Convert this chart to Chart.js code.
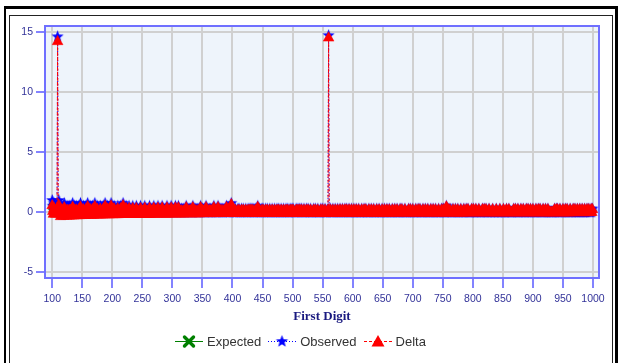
<!DOCTYPE html>
<html><head><meta charset="utf-8">
<script src="https://cdn.jsdelivr.net/npm/chart.js@4/dist/chart.umd.min.js"></script>
<style>
html,body{margin:0;padding:0;background:#fff;width:620px;height:363px;overflow:hidden;position:relative;font-family:"Liberation Sans",Arial,sans-serif}
#c{position:absolute;left:0;top:0}
.outer{position:absolute;left:4px;top:6px;width:614px;height:400px;box-sizing:border-box;border-top:3px solid #000;border-left:2px solid #000;border-right:3px solid #000;pointer-events:none}
.inner{position:absolute;left:9px;top:15px;width:604px;height:400px;box-sizing:border-box;border:1px solid #222;pointer-events:none}
#legend{position:absolute;left:175px;top:333px;height:16px;display:flex;align-items:center;font-size:13px;color:#333;white-space:nowrap}
#legend .it{display:flex;align-items:center;margin-right:7px}
#legend canvas{display:block;margin-right:4px}
</style></head><body>
<canvas id="c" width="620" height="363"></canvas>
<div class="outer"></div><div class="inner"></div>
<div id="legend"></div>
<script>
// First digits 100..999
const digits = Array.from({length: 900}, (_, i) => 100 + i);
const xTicks = [100,150,200,250,300,350,400,450,500,550,600,650,700,750,800,850,900,950,1000];
const yTicks = [-5,0,5,10,15];
const seriesNames = ['Expected','Observed','Delta'];

const expected = [
.43,.43,.42,.42,.42,.41,.41,.40,.40,.40,
.39,.39,.39,.38,.38,.38,.37,.37,.37,.36,
.36,.36,.35,.35,.35,.35,.34,.34,.34,.34,
.33,.33,.33,.33,.32,.32,.32,.32,.31,.31,
.31,.31,.30,.30,.30,.30,.30,.29,.29,.29,
.29,.29,.28,.28,.28,.28,.28,.28,.27,.27,
.27,.27,.27,.27,.26,.26,.26,.26,.26,.26,
.25,.25,.25,.25,.25,.25,.25,.24,.24,.24,
.24,.24,.24,.24,.24,.23,.23,.23,.23,.23,
.23,.23,.23,.22,.22,.22,.22,.22,.22,.22,
.22,.22,.21,.21,.21,.21,.21,.21,.21,.21,
.21,.21,.20,.20,.20,.20,.20,.20,.20,.20,
.20,.20,.20,.19,.19,.19,.19,.19,.19,.19,
.19,.19,.19,.19,.19,.18,.18,.18,.18,.18,
.18,.18,.18,.18,.18,.18,.18,.18,.17,.17,
.17,.17,.17,.17,.17,.17,.17,.17,.17,.17,
.17,.17,.17,.16,.16,.16,.16,.16,.16,.16,
.16,.16,.16,.16,.16,.16,.16,.16,.16,.16,
.15,.15,.15,.15,.15,.15,.15,.15,.15,.15,
.15,.15,.15,.15,.15,.15,.15,.15,.15,.15,
.14,.14,.14,.14,.14,.14,.14,.14,.14,.14,
.14,.14,.14,.14,.14,.14,.14,.14,.14,.14,
.14,.14,.13,.13,.13,.13,.13,.13,.13,.13,
.13,.13,.13,.13,.13,.13,.13,.13,.13,.13,
.13,.13,.13,.13,.13,.13,.13,.12,.12,.12,
.12,.12,.12,.12,.12,.12,.12,.12,.12,.12,
.12,.12,.12,.12,.12,.12,.12,.12,.12,.12,
.12,.12,.12,.12,.12,.12,.12,.12,.11,.11,
.11,.11,.11,.11,.11,.11,.11,.11,.11,.11,
.11,.11,.11,.11,.11,.11,.11,.11,.11,.11,
.11,.11,.11,.11,.11,.11,.11,.11,.11,.11,
.11,.11,.11,.11,.10,.10,.10,.10,.10,.10,
.10,.10,.10,.10,.10,.10,.10,.10,.10,.10,
.10,.10,.10,.10,.10,.10,.10,.10,.10,.10,
.10,.10,.10,.10,.10,.10,.10,.10,.10,.10,
.10,.10,.10,.10,.10,.10,.10,.09,.09,.09,
.09,.09,.09,.09,.09,.09,.09,.09,.09,.09,
.09,.09,.09,.09,.09,.09,.09,.09,.09,.09,
.09,.09,.09,.09,.09,.09,.09,.09,.09,.09,
.09,.09,.09,.09,.09,.09,.09,.09,.09,.09,
.09,.09,.09,.09,.09,.09,.09,.09,.09,.09,
.09,.08,.08,.08,.08,.08,.08,.08,.08,.08,
.08,.08,.08,.08,.08,.08,.08,.08,.08,.08,
.08,.08,.08,.08,.08,.08,.08,.08,.08,.08,
.08,.08,.08,.08,.08,.08,.08,.08,.08,.08,
.08,.08,.08,.08,.08,.08,.08,.08,.08,.08,
.08,.08,.08,.08,.08,.08,.08,.08,.08,.08,
.08,.08,.08,.08,.08,.08,.08,.08,.08,.07,
.07,.07,.07,.07,.07,.07,.07,.07,.07,.07,
.07,.07,.07,.07,.07,.07,.07,.07,.07,.07,
.07,.07,.07,.07,.07,.07,.07,.07,.07,.07,
.07,.07,.07,.07,.07,.07,.07,.07,.07,.07,
.07,.07,.07,.07,.07,.07,.07,.07,.07,.07,
.07,.07,.07,.07,.07,.07,.07,.07,.07,.07,
.07,.07,.07,.07,.07,.07,.07,.07,.07,.07,
.07,.07,.07,.07,.07,.07,.07,.07,.07,.07,
.07,.07,.07,.07,.07,.07,.07,.07,.06,.06,
.06,.06,.06,.06,.06,.06,.06,.06,.06,.06,
.06,.06,.06,.06,.06,.06,.06,.06,.06,.06,
.06,.06,.06,.06,.06,.06,.06,.06,.06,.06,
.06,.06,.06,.06,.06,.06,.06,.06,.06,.06,
.06,.06,.06,.06,.06,.06,.06,.06,.06,.06,
.06,.06,.06,.06,.06,.06,.06,.06,.06,.06,
.06,.06,.06,.06,.06,.06,.06,.06,.06,.06,
.06,.06,.06,.06,.06,.06,.06,.06,.06,.06,
.06,.06,.06,.06,.06,.06,.06,.06,.06,.06,
.06,.06,.06,.06,.06,.06,.06,.06,.06,.06,
.06,.06,.06,.06,.06,.06,.06,.06,.06,.06,
.06,.06,.06,.06,.06,.06,.06,.06,.06,.06,
.05,.05,.05,.05,.05,.05,.05,.05,.05,.05,
.05,.05,.05,.05,.05,.05,.05,.05,.05,.05,
.05,.05,.05,.05,.05,.05,.05,.05,.05,.05,
.05,.05,.05,.05,.05,.05,.05,.05,.05,.05,
.05,.05,.05,.05,.05,.05,.05,.05,.05,.05,
.05,.05,.05,.05,.05,.05,.05,.05,.05,.05,
.05,.05,.05,.05,.05,.05,.05,.05,.05,.05,
.05,.05,.05,.05,.05,.05,.05,.05,.05,.05,
.05,.05,.05,.05,.05,.05,.05,.05,.05,.05,
.05,.05,.05,.05,.05,.05,.05,.05,.05,.05,
.05,.05,.05,.05,.05,.05,.05,.05,.05,.05,
.05,.05,.05,.05,.05,.05,.05,.05,.05,.05,
.05,.05,.05,.05,.05,.05,.05,.05,.05,.05,
.05,.05,.05,.05,.05,.05,.05,.05,.05,.05,
.05,.05,.05,.05,.05,.05,.05,.05,.05,.05,
.05,.05,.05,.05,.05,.05,.05,.05,.05,.05,
.05,.05,.05,.05,.05,.04,.04,.04,.04,.04,
.04,.04,.04,.04,.04,.04,.04,.04,.04,.04,
.04,.04,.04,.04,.04,.04,.04,.04,.04,.04,
.04,.04,.04,.04,.04,.04,.04,.04,.04,.04
];

const observed = [
.96,.48,.24,.72,.48,.24,.48,.24,.48,14.6,
.24,.96,.48,.24,0,.48,.24,.24,.48,0,
.72,.24,.24,.48,0,.24,.48,.24,0,.48,
.24,.48,0,.24,.72,.24,0,.48,.24,.24,
.48,0,.24,.24,.48,0,.24,.72,.24,0,
.24,.24,.48,0,.24,0,.48,.24,.24,.72,
0,.24,.24,.48,0,.24,0,.48,.24,0,
.24,.72,.24,0,.24,.48,0,.24,0,.24,
.48,0,.24,.24,0,.48,.24,0,.72,.24,
0,.24,.48,0,.24,0,.24,.24,.72,.48,
.24,0,.24,.48,0,.24,0,.24,0,.48,
0,.24,.24,0,.48,0,.24,.48,.72,.24,
0,.24,0,.48,0,.24,.24,0,.48,0,
.24,0,0,.24,.48,0,.24,0,0,.24,
.48,0,.24,0,0,.24,0,.48,0,.24,
0,.24,0,0,.48,0,.24,0,.24,0,
.24,0,.48,0,0,.24,0,0,.24,.48,
0,0,.24,0,.24,0,.48,0,0,.24,
.24,0,0,.48,0,.24,0,0,.24,0,
0,.48,0,0,.24,0,.24,0,.48,0,
.24,0,0,.24,0,.48,0,.24,0,0,
.48,0,.24,0,0,.24,0,0,.24,0,
0,.24,0,.48,0,0,.24,0,0,.24,
.24,0,0,0,.48,0,.24,0,.24,0,
0,.24,0,0,.24,0,0,.48,0,.24,
.24,0,0,.24,0,0,.48,0,0,.24,
0,0,.24,0,.24,0,0,.24,0,.48,
.24,0,0,0,.24,0,.48,0,0,.24,
0,.24,0,0,.24,0,0,.24,0,0,
.48,0,0,.24,0,0,0,.24,.72,.24,
0,0,.24,0,0,.24,0,0,0,.24,
0,.24,0,0,0,.24,0,0,.24,0,
0,0,.24,0,0,0,.24,0,0,.24,
0,.24,0,0,.24,0,0,0,.24,0,
0,0,.48,0,0,.24,0,0,0,.24,
0,.24,0,0,0,.24,0,0,.24,0,
0,0,.24,0,0,0,.24,0,0,0,
.24,0,0,0,.24,0,0,.24,0,0,
0,.24,0,0,0,.24,0,0,0,.24,
0,0,.24,0,0,0,.24,0,0,.24,
0,.24,0,0,0,0,.24,0,0,.24,
0,0,.24,0,0,.24,0,0,0,.24,
0,0,0,.24,0,0,.24,0,0,0,
.24,0,0,0,0,.24,0,0,.24,0,
0,0,.24,0,0,0,0,.24,0,0,
.24,0,0,0,.24,0,0,0,0,.24,
14.7,0,0,.24,0,0,0,.24,0,0,
0,.24,0,0,0,.24,0,0,0,.24,
0,0,0,.24,0,0,0,.24,0,0,
.24,0,0,0,.24,0,0,0,.24,0,
0,0,.24,0,0,0,.24,0,0,0,
.24,0,0,0,0,.24,0,0,0,.24,
0,0,.24,0,0,0,0,.24,0,0,
0,.24,0,0,0,.24,0,0,0,0,
.24,0,0,0,.24,0,0,0,0,.24,
0,0,0,.24,0,0,0,.24,0,0,
0,.24,0,0,0,0,.24,0,0,0,
.24,0,0,0,.24,0,0,0,0,.24,
0,0,.24,0,0,0,0,.24,0,0,
0,0,0,.24,0,0,.24,0,0,0,
.24,0,0,0,0,.24,0,0,0,.24,
0,0,.24,0,0,0,0,.24,0,0,
0,.24,0,0,0,.24,0,0,0,0,
.24,0,0,0,.24,0,0,0,.24,0,
0,0,0,.24,0,0,0,0,.24,0,
0,.24,0,0,0,0,.48,0,0,.24,
0,0,.24,0,0,0,0,.24,0,0,
0,.24,0,0,0,.24,0,0,0,0,
.24,0,0,0,0,.24,0,0,0,.24,
0,0,.24,0,0,0,0,0,.24,0,
0,.24,0,0,0,.24,0,0,0,0,
.24,0,0,0,0,0,.24,0,0,.24,
0,0,.24,0,0,0,0,.24,0,0,
0,0,0,.24,0,0,0,0,0,.24,
0,0,0,0,0,.24,0,0,0,0,
0,.24,0,0,0,0,.24,0,0,0,
.24,0,0,0,0,0,0,0,.24,0,
0,.24,0,0,0,.24,0,0,0,0,
.24,0,0,0,.24,0,0,0,0,.24,
0,0,.24,0,0,0,.24,0,0,0,
.24,0,0,0,0,.24,0,0,0,.24,
0,0,.24,0,0,0,0,.24,0,0,
0,.24,0,0,0,.24,0,0,0,0,
0,0,0,0,0,0,.24,0,0,.24,
0,.24,0,0,0,.24,0,0,0,0,
.24,0,0,0,.24,0,0,.24,0,0,
0,0,.24,0,0,0,0,.24,0,0,
.24,0,0,0,.24,0,0,0,.24,0,
0,0,.24,0,0,0,.24,0,0,0,
.24,0,0,.24,0,0,0,.24,0,.24
];

const delta = [
.53,.05,-.18,.30,.06,-.17,.07,-.16,.08,14.2,
-.15,.57,.09,-.14,-.38,.10,-.13,-.13,.11,-.36,
.36,-.12,-.11,.13,-.35,-.11,.14,-.10,-.34,.14,
-.09,.15,-.33,-.09,.40,-.08,-.32,.16,-.07,-.07,
.17,-.31,-.06,-.06,.18,-.30,-.06,.43,-.05,-.29,
-.05,-.05,.20,-.28,-.04,-.28,.20,-.04,-.03,.45,
-.27,-.03,-.03,.21,-.26,-.02,-.26,.22,-.02,-.26,
-.01,.47,-.01,-.25,-.01,.23,-.25,0,-.24,0,
.24,-.24,0,0,-.24,.25,.01,-.23,.49,.01,
-.23,.01,.25,-.22,.02,-.22,.02,.02,.50,.26,
.02,-.22,.03,.27,-.21,.03,-.21,.03,-.21,.27,
-.21,.03,.04,-.20,.28,-.20,.04,.28,.52,.04,
-.20,.04,-.20,.29,-.19,.05,.05,-.19,.29,-.19,
.05,-.19,-.19,.05,.29,-.18,.06,-.18,-.18,.06,
.30,-.18,.06,-.18,-.18,.06,-.18,.30,-.17,.07,
-.17,.07,-.17,-.17,.31,-.17,.07,-.17,.07,-.17,
.07,-.17,.31,-.16,-.16,.08,-.16,-.16,.08,.32,
-.16,-.16,.08,-.16,.08,-.16,.32,-.16,-.16,.08,
.09,-.15,-.15,.33,-.15,.09,-.15,-.15,.09,-.15,
-.15,.33,-.15,-.15,.09,-.15,.09,-.15,.33,-.15,
.10,-.14,-.14,.10,-.14,.34,-.14,.10,-.14,-.14,
.34,-.14,.10,-.14,-.14,.10,-.14,-.14,.10,-.14,
-.14,.10,-.13,.35,-.13,-.13,.11,-.13,-.13,.11,
.11,-.13,-.13,-.13,.35,-.13,.11,-.13,.11,-.13,
-.13,.11,-.13,-.13,.11,-.13,-.13,.36,-.12,.12,
.12,-.12,-.12,.12,-.12,-.12,.36,-.12,-.12,.12,
-.12,-.12,.12,-.12,.12,-.12,-.12,.12,-.12,.36,
.12,-.12,-.12,-.12,.12,-.12,.36,-.12,-.11,.13,
-.11,.13,-.11,-.11,.13,-.11,-.11,.13,-.11,-.11,
.37,-.11,-.11,.13,-.11,-.11,-.11,.13,.61,.13,
-.11,-.11,.13,-.11,-.11,.13,-.11,-.11,-.11,.13,
-.11,.13,-.11,-.11,-.10,.14,-.10,-.10,.14,-.10,
-.10,-.10,.14,-.10,-.10,-.10,.14,-.10,-.10,.14,
-.10,.14,-.10,-.10,.14,-.10,-.10,-.10,.14,-.10,
-.10,-.10,.38,-.10,-.10,.14,-.10,-.10,-.10,.14,
-.10,.14,-.10,-.10,-.10,.14,-.10,-.09,.15,-.09,
-.09,-.09,.15,-.09,-.09,-.09,.15,-.09,-.09,-.09,
.15,-.09,-.09,-.09,.15,-.09,-.09,.15,-.09,-.09,
-.09,.15,-.09,-.09,-.09,.15,-.09,-.09,-.09,.15,
-.09,-.09,.15,-.09,-.09,-.09,.15,-.09,-.09,.15,
-.09,.15,-.09,-.09,-.09,-.09,.15,-.09,-.09,.15,
-.09,-.08,.16,-.08,-.08,.16,-.08,-.08,-.08,.16,
-.08,-.08,-.08,.16,-.08,-.08,.16,-.08,-.08,-.08,
.16,-.08,-.08,-.08,-.08,.16,-.08,-.08,.16,-.08,
-.08,-.08,.16,-.08,-.08,-.08,-.08,.16,-.08,-.08,
.16,-.08,-.08,-.08,.16,-.08,-.08,-.08,-.08,.16,
14.5,-.08,-.08,.16,-.08,-.08,-.08,.16,-.08,-.08,
-.08,.16,-.08,-.08,-.08,.16,-.08,-.08,-.08,.17,
-.07,-.07,-.07,.17,-.07,-.07,-.07,.17,-.07,-.07,
.17,-.07,-.07,-.07,.17,-.07,-.07,-.07,.17,-.07,
-.07,-.07,.17,-.07,-.07,-.07,.17,-.07,-.07,-.07,
.17,-.07,-.07,-.07,-.07,.17,-.07,-.07,-.07,.17,
-.07,-.07,.17,-.07,-.07,-.07,-.07,.17,-.07,-.07,
-.07,.17,-.07,-.07,-.07,.17,-.07,-.07,-.07,-.07,
.17,-.07,-.07,-.07,.17,-.07,-.07,-.07,-.07,.17,
-.07,-.07,-.07,.17,-.07,-.07,-.07,.17,-.07,-.07,
-.07,.17,-.07,-.07,-.07,-.07,.17,-.07,-.06,-.06,
.18,-.06,-.06,-.06,.18,-.06,-.06,-.06,-.06,.18,
-.06,-.06,.18,-.06,-.06,-.06,-.06,.18,-.06,-.06,
-.06,-.06,-.06,.18,-.06,-.06,.18,-.06,-.06,-.06,
.18,-.06,-.06,-.06,-.06,.18,-.06,-.06,-.06,.18,
-.06,-.06,.18,-.06,-.06,-.06,-.06,.18,-.06,-.06,
-.06,.18,-.06,-.06,-.06,.18,-.06,-.06,-.06,-.06,
.18,-.06,-.06,-.06,.18,-.06,-.06,-.06,.18,-.06,
-.06,-.06,-.06,.18,-.06,-.06,-.06,-.06,.18,-.06,
-.06,.18,-.06,-.06,-.06,-.06,.42,-.06,-.06,.18,
-.06,-.06,.18,-.06,-.06,-.06,-.06,.18,-.06,-.06,
-.06,.18,-.06,-.06,-.06,.18,-.06,-.06,-.06,-.06,
.18,-.06,-.06,-.06,-.06,.18,-.06,-.06,-.06,.18,
-.05,-.05,.19,-.05,-.05,-.05,-.05,-.05,.19,-.05,
-.05,.19,-.05,-.05,-.05,.19,-.05,-.05,-.05,-.05,
.19,-.05,-.05,-.05,-.05,-.05,.19,-.05,-.05,.19,
-.05,-.05,.19,-.05,-.05,-.05,-.05,.19,-.05,-.05,
-.05,-.05,-.05,.19,-.05,-.05,-.05,-.05,-.05,.19,
-.05,-.05,-.05,-.05,-.05,.19,-.05,-.05,-.05,-.05,
-.05,.19,-.05,-.05,-.05,-.05,.19,-.05,-.05,-.05,
.19,-.05,-.05,-.05,-.05,-.05,-.05,-.05,.19,-.05,
-.05,.19,-.05,-.05,-.05,.19,-.05,-.05,-.05,-.05,
.19,-.05,-.05,-.05,.19,-.05,-.05,-.05,-.05,.19,
-.05,-.05,.19,-.05,-.05,-.05,.19,-.05,-.05,-.05,
.19,-.05,-.05,-.05,-.05,.19,-.05,-.05,-.05,.19,
-.05,-.05,.19,-.05,-.05,-.05,-.05,.19,-.05,-.05,
-.05,.19,-.05,-.05,-.05,.19,-.05,-.05,-.05,-.05,
-.05,-.05,-.05,-.05,-.05,-.05,.19,-.05,-.05,.19,
-.05,.19,-.05,-.05,-.05,.19,-.05,-.05,-.05,-.05,
.19,-.05,-.05,-.05,.19,-.05,-.05,.19,-.05,-.05,
-.05,-.05,.19,-.05,-.05,-.04,-.04,.20,-.04,-.04,
.20,-.04,-.04,-.04,.20,-.04,-.04,-.04,.20,-.04,
-.04,-.04,.20,-.04,-.04,-.04,.20,-.04,-.04,-.04,
.20,-.04,-.04,.20,-.04,-.04,-.04,.20,-.04,.20
];

// --- marker images ---
function makeStar(color, R, r) {
  const s = Math.ceil(R * 2 + 2), c = document.createElement('canvas');
  c.width = s; c.height = s;
  const g = c.getContext('2d');
  g.translate(s / 2, s / 2);
  g.beginPath();
  for (let k = 0; k < 10; k++) {
    const rad = k % 2 ? r : R, a = -Math.PI / 2 + k * Math.PI / 5;
    g.lineTo(Math.cos(a) * rad, Math.sin(a) * rad);
  }
  g.closePath(); g.fillStyle = color; g.fill();
  return c;
}
const starImg = makeStar('#0000ff', 6.4, 2.7);

const C_EXP = '#008000', C_OBS = '#0000ff', C_DEL = '#ff0000';

const bgPlugin = {
  id: 'bg',
  beforeDraw(chart) {
    const {ctx, chartArea: a} = chart;
    ctx.save();
    ctx.fillStyle = '#ffffff';
    ctx.fillRect(0, 0, chart.width, chart.height);
    ctx.fillStyle = '#eef4fb';
    ctx.fillRect(a.left, a.top, a.right - a.left, a.bottom - a.top);
    ctx.restore();
  },
  beforeDatasetsDraw(chart) {
    const {ctx, chartArea: a} = chart;
    ctx.save();
    ctx.strokeStyle = '#6f6fff';
    ctx.lineWidth = 2;
    ctx.strokeRect(a.left, a.top, a.right - a.left, a.bottom - a.top);
    ctx.restore();
  }
};

const pts = arr => digits.map((d, i) => ({x: d, y: arr[i]}));

new Chart(document.getElementById('c'), {
  type: 'line',
  data: {
    datasets: [
      {label: seriesNames[0], data: pts(expected), order: 3, borderColor: C_EXP, borderWidth: 1,
       pointStyle: 'crossRot', pointRadius: 4.5, pointBorderWidth: 2.5, pointBorderColor: C_EXP, pointBackgroundColor: C_EXP},
      {label: seriesNames[1], data: pts(observed), order: 2, borderColor: C_OBS, borderWidth: 1, borderDash: [1, 2],
       pointStyle: starImg, pointRadius: 6},
      {label: seriesNames[2], data: pts(delta), order: 1, borderColor: C_DEL, borderWidth: 1, borderDash: [3, 2],
       pointStyle: 'triangle', pointRadius: 6.2, pointBorderWidth: 0.5, pointBorderColor: C_DEL, pointBackgroundColor: C_DEL}
    ]
  },
  options: {
    responsive: false, animation: false, devicePixelRatio: 1,
    layout: {padding: {left: 0, top: 26, right: 21, bottom: 39}},
    plugins: {legend: {display: false}, tooltip: {enabled: false}},
    scales: {
      x: {
        type: 'linear', min: 88, max: 1010,
        afterBuildTicks: s => { s.ticks = xTicks.map(v => ({value: v})); },
        afterFit: s => { s.height = 46; },
        grid: {color: '#d0d0d0', lineWidth: 2, tickLength: 10, tickColor: '#5a5aff', tickWidth: 1.5},
        border: {display: false},
        ticks: {color: '#333399', font: {family: 'Liberation Sans', size: 10.5}, padding: 5, maxRotation: 0, autoSkip: false,
                callback: v => String(v)},
        title: {display: true, text: 'First Digit', color: '#1a1a80', font: {family: 'Liberation Serif', size: 13, weight: 'bold'}, padding: {top: 0, bottom: 0}}
      },
      y: {
        min: -5.5, max: 15.5,
        afterBuildTicks: s => { s.ticks = yTicks.map(v => ({value: v})); },
        afterFit: s => { s.width = 45; },
        grid: {color: '#d0d0d0', lineWidth: 2, tickLength: 9, tickColor: '#5a5aff', tickWidth: 1.5},
        border: {display: false},
        ticks: {color: '#333399', font: {family: 'Liberation Sans', size: 10.5}, padding: 3, callback: v => String(v)}
      }
    }
  },
  plugins: [bgPlugin]
});

// --- legend (HTML, real text) ---
function sample(kind) {
  const c = document.createElement('canvas');
  c.width = 28; c.height = 16;
  const g = c.getContext('2d');
  g.lineWidth = 1;
  g.beginPath(); g.moveTo(0, 8.5); g.lineTo(28, 8.5);
  if (kind === 0) { g.strokeStyle = C_EXP; }
  else if (kind === 1) { g.strokeStyle = C_OBS; g.setLineDash([1, 2]); }
  else { g.strokeStyle = C_DEL; g.setLineDash([3, 2]); }
  g.stroke(); g.setLineDash([]);
  if (kind === 0) {
    g.strokeStyle = C_EXP; g.lineWidth = 3.4; g.lineCap = 'round';
    g.beginPath(); g.moveTo(9.5, 4); g.lineTo(18.5, 13); g.moveTo(18.5, 4); g.lineTo(9.5, 13); g.stroke();
  } else if (kind === 1) {
    g.drawImage(starImg, 14 - starImg.width / 2, 8.5 - starImg.height / 2);
  } else {
    g.fillStyle = C_DEL; g.beginPath(); g.moveTo(14, 2); g.lineTo(20.5, 13.5); g.lineTo(7.5, 13.5); g.closePath(); g.fill();
  }
  return c;
}
const leg = document.getElementById('legend');
seriesNames.forEach((n, i) => {
  const it = document.createElement('div'); it.className = 'it';
  it.appendChild(sample(i));
  const t = document.createElement('span'); t.textContent = n; it.appendChild(t);
  leg.appendChild(it);
});
</script>
</body></html>
